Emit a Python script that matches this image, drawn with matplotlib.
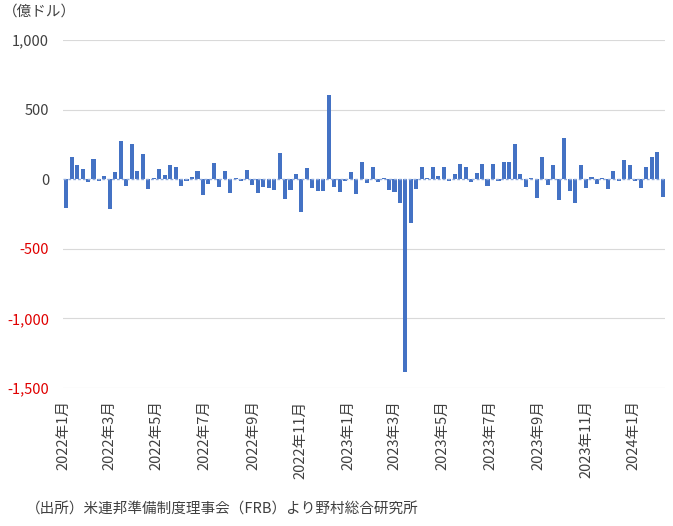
import pandas as pd
import numpy as np
import matplotlib.pyplot as plt
import matplotlib.dates as mdates
import matplotlib.ticker as ticker

plt.rcParams['font.family'] = ['Noto Sans CJK JP', 'DejaVu Sans']

# weekly change (100 million USD), first week of Jan 2022 onward
values = [
    -210, 158, 100, 72, -22, 144, -15, 22, -216, 50,
    273, -50, 250, 58, 180, -72, 10, 72, 28, 105,
    86, -50, -15, 15, 58, -115, -36, 115, -55, 58,
    -100, 10, -10, 65, -40, -100, -55, -60, -80, 185,
    -145, -80, 35, -235, 80, -65, -85, -85, 605, -55,
    -90, -15, 50, -105, 120, -25, 85, -20, 10, -80,
    -95, -170, -1385, -315, -70, 90, 10, 90, 25, 90,
    -10, 35, 110, 90, -20, 45, 110, -50, 110, -10,
    125, 125, 250, 35, -55, 10, -135, 160, -40, 105,
    -150, 295, -85, -170, 100, -65, 15, -35, 10, -70,
    58, -10, 135, 105, -15, -65, 90, 160, 195, -130,
]
dates = pd.date_range('2022-01-05', periods=len(values), freq='7D')

tick_dates = pd.date_range('2022-01-01', '2024-01-01', freq='2MS')
tick_labels = [f'{d.year}年{d.month}月' for d in tick_dates]

y_ticks = [1000, 500, 0, -500, -1000, -1500]
y_tick_labels = ['1,000', '500', '0', '-500', '-1,000', '-1,500']

fig = plt.figure(figsize=(6.73, 5.26), dpi=100)
ax = fig.add_axes([63 / 673, 1 - 388 / 526, (665 - 63) / 673, (388 - 40) / 526])

ax.bar(dates, values, width=5.2, color='#4472C4', zorder=3)
ax.axhline(0, color='#8FAADC', linestyle=(0, (2, 1.5)), linewidth=1.0, zorder=4)

ax.set_ylim(-1500, 1000)
ax.set_xlim(pd.Timestamp('2022-01-01'), pd.Timestamp('2024-02-10'))
ax.set_yticks(y_ticks)
ax.set_yticklabels(y_tick_labels, fontsize=10.5)
for lbl, v in zip(ax.get_yticklabels(), y_ticks):
    lbl.set_color('#E00000' if v < 0 else '#404040')

ax.set_xticks(tick_dates)
ax.set_xticklabels(tick_labels, rotation=90, fontsize=10.5, color='#404040')

for v in y_ticks:
    if v != 0:
        ax.axhline(v, color='#D9D9D9', linewidth=0.8, zorder=1)

for s in ax.spines.values():
    s.set_visible(False)
ax.tick_params(axis='y', length=0, pad=10)
ax.tick_params(axis='x', length=0, pad=9)

fig.text(3 / 673, 1 - 12 / 526, '（億ドル）', fontsize=10.5, color='#404040', va='center')
fig.text(26 / 673, 1 - 510 / 526, '（出所）米連邦準備制度理事会（FRB）より野村総合研究所',
         fontsize=10.5, color='#404040', va='center')

fig.savefig('out.png', dpi=100)
